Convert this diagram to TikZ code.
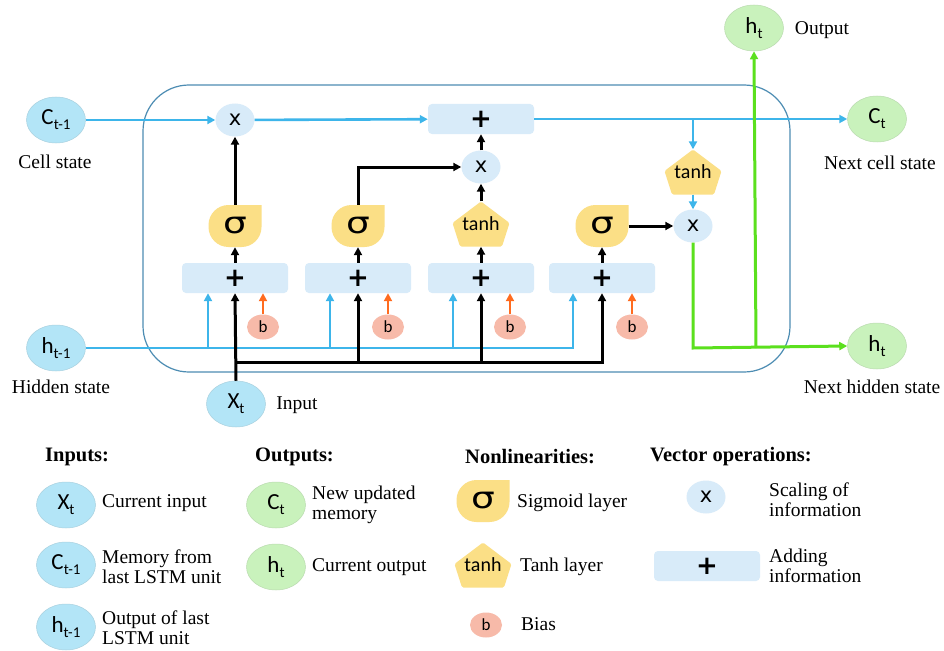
\documentclass[tikz,border=0pt]{standalone}
\usepackage{fontspec}
\setmainfont{Liberation Serif}
\newfontfamily\nf{Carlito}
\newfontfamily\djf{DejaVu Sans}
\usetikzlibrary{arrows.meta,shapes.geometric}
\definecolor{cyanfill}{HTML}{B3E5F7}
\definecolor{greenfill}{HTML}{C9F2BC}
\definecolor{opfill}{HTML}{D8EBF9}
\definecolor{yel}{HTML}{FBDF86}
\definecolor{salmon}{HTML}{F7BAA9}
\definecolor{bline}{HTML}{3DB5EA}
\definecolor{gline}{HTML}{5BE01E}
\definecolor{oline}{HTML}{FF6B1F}
\definecolor{cellc}{HTML}{4D8DB3}
\newcommand\lsub[1]{\raisebox{-5pt}{\fontsize{15}{15}\selectfont #1}}
\newcommand\lblfont{\fontsize{19.5}{20}\selectfont}
\newcommand\sigsym{\scalebox{1.25}[1]{σ}}
\tikzset{
  var/.style={ellipse, minimum width=59, minimum height=46, inner sep=0pt, font=\nf\fontsize{23}{23}\selectfont},
  cyanv/.style={var, fill=cyanfill, draw=cyanfill!80!gray, line width=0.5pt},
  greenv/.style={var, fill=greenfill, draw=greenfill!80!gray, line width=0.5pt},
  mul/.style={ellipse, fill=opfill, minimum width=39, minimum height=33, inner sep=0pt, font=\djf\fontsize{21}{21}\selectfont},
  addbox/.style={rectangle, rounded corners=4pt, fill=opfill, minimum width=106, minimum height=30, inner sep=0pt, font=\djf\bfseries\fontsize{26}{26}\selectfont},
  sig/.style={rectangle, minimum width=53, minimum height=42, inner sep=0pt, font=\djf\fontsize{30}{30}\selectfont,
    path picture={\fill[yel] ([shift={(26.5pt,21pt)}]path picture bounding box.center)
      -- ([shift={(-6.5pt,21pt)}]path picture bounding box.center) arc[start angle=90,end angle=180,radius=20pt]
      -- ([shift={(-26.5pt,-1pt)}]path picture bounding box.center) arc[start angle=180,end angle=270,radius=20pt]
      -- ([shift={(6.5pt,-21pt)}]path picture bounding box.center) arc[start angle=270,end angle=360,radius=20pt]
      -- cycle;}},
  tanhn/.style={rectangle, minimum width=57, minimum height=45, inner sep=0pt, font=\nf\fontsize{20}{20}\selectfont,
    path picture={\fill[yel, rounded corners=1.5pt] ([shift={(0pt,22.5pt)}]path picture bounding box.center)
      -- ([shift={(28.5pt,1pt)}]path picture bounding box.center)
      -- ([shift={(21pt,-22.5pt)}]path picture bounding box.center)
      -- ([shift={(-21pt,-22.5pt)}]path picture bounding box.center)
      -- ([shift={(-28.5pt,1pt)}]path picture bounding box.center) -- cycle;}},
  bias/.style={ellipse, fill=salmon, minimum width=32, minimum height=25, inner sep=0pt, font=\nf\fontsize{17}{17}\selectfont},
  lbl/.style={font=\lblfont, inner sep=0pt},
  lbll/.style={font=\lblfont, inner sep=0pt, anchor=west, align=left},
  head/.style={font=\bfseries\fontsize{20.5}{21}\selectfont, inner sep=0pt, anchor=west},
  arr/.style={-{Triangle[length=8pt,width=8pt]}},
  blk/.style={black, line width=3pt},
  blu/.style={bline, line width=2.6pt},
  grn/.style={gline, line width=3pt},
  org/.style={oline, line width=2.5pt},
}
\begin{document}
\begin{tikzpicture}[x=1pt,y=-1pt]
\useasboundingbox (0,0) rectangle (944,650);
\fill[white] (0,0) rectangle (944,650);
% cell boundary
\draw[cellc, line width=1.2pt, rounded corners=46pt] (143,85) rectangle (790,372);

% variable nodes
\node[cyanv] (cprev) at (56,120) {C\lsub{t-1}};
\node[cyanv] (hprev) at (56,348) {h\lsub{t-1}};
\node[cyanv] (xt) at (236,404) {X\lsub{t}};
\node[greenv] (ct) at (877,119) {C\lsub{t}};
\node[greenv] (htout) at (754,28) {h\lsub{t}};
\node[greenv] (htnext) at (877,346) {h\lsub{t}};

% operations
\node[mul] (m1) at (235,120) {x};
\node[addbox] (a0) at (481,119) {+};
\node[mul] (m2) at (481,167) {x};
\node[tanhn] (th2) at (693,172) {tanh};
\node[mul] (m3) at (693,226) {x};

\node[sig] (s1) at (235,226) {\sigsym};
\node[sig] (s2) at (358,226) {\sigsym};
\node[tanhn] (tn) at (481,224) {tanh};
\node[sig] (s3) at (602,226) {\sigsym};

\node[addbox] (add1) at (235,278) {+};
\node[addbox] (add2) at (358,278) {+};
\node[addbox] (add3) at (481,278) {+};
\node[addbox] (add4) at (602,278) {+};

\node[bias] (b1) at (263,327) {b};
\node[bias] (b2) at (388,327) {b};
\node[bias] (b3) at (510,327) {b};
\node[bias] (b4) at (632,327) {b};

% cell state line
\draw[blu,arr] (cprev) -- (m1);
\draw[blu,arr] (m1) -- (a0);
\draw[blu,arr] (a0) -- (ct);
\coordinate (br) at (693,119);
\draw[blu,arr] (br) -- (th2.north);
\draw[blu,arr] (th2.south) -- (m3.north);

% gate outputs
\draw[blk,arr] (s1.north) -- (m1.south);
\draw[blk,arr] (s2.north) |- (m2.west);
\draw[blk,arr] (tn.north) -- (m2.south);
\draw[blk,arr] (m2.north) -- (a0.south);
\draw[blk,arr] (s3.east) -- (m3.west);
\draw[blk,arr] (add1.north) -- (s1.south);
\draw[blk,arr] (add2.north) -- (s2.south);
\draw[blk,arr] (add3.north) -- (tn.south);
\draw[blk,arr] (add4.north) -- (s3.south);

% output h_t
\coordinate (gc) at (693,348);
\coordinate (gj) at (756,348);
\draw[grn,arr] (m3.south) -- (gc) -- (htnext.west);
\draw[grn,arr] (gj) -- (htout.south);

% hidden state input
\coordinate (h1) at (208,348);
\coordinate (h2) at (330,348);
\coordinate (h3) at (453,348);
\coordinate (h4) at (573,348);
\draw[blu,arr,line join=miter] (hprev.east) -- (h4) -- (h4 |- add4.south);
\draw[blu,arr] (h1) -- (h1 |- add1.south);
\draw[blu,arr] (h2) -- (h2 |- add2.south);
\draw[blu,arr] (h3) -- (h3 |- add3.south);

% x_t input
\coordinate (xj) at (235,362);
\draw[blk,arr] (xt.north) -- (add1.south);
\draw[blk,arr,line join=miter] (xj) -| (add4.south);
\draw[blk,arr] (add2.south |- xj) -- (add2.south);
\draw[blk,arr] (add3.south |- xj) -- (add3.south);

% biases
\draw[org,arr] (b1.north) -- (b1.north |- add1.south);
\draw[org,arr] (b2.north) -- (b2.north |- add2.south);
\draw[org,arr] (b3.north) -- (b3.north |- add3.south);
\draw[org,arr] (b4.north) -- (b4.north |- add4.south);

% labels
\node[lbl] (l1) at (55,162) {Cell state};
\node[lbl] (l2) at (61,387) {Hidden state};
\node[lbl] (l3) at (297,405) {Input};
\node[lbl] (l4) at (822,30) {Output};
\node[lbl] (l5) at (880,163) {Next cell state};
\node[lbl] (l6) at (872,387) {Next hidden state};

% legend
\node[head] (hin) at (45,457) {Inputs:};
\node[head] (hout) at (255,457) {Outputs:};
\node[head] (hnl) at (465,457) {Nonlinearities:};
\node[head] (hvo) at (650,457) {Vector operations:};

\node[cyanv] (lx) at (66,505) {X\lsub{t}};
\node[lbll] (tx) at (102,503) {Current input};
\node[cyanv] (lc) at (66,565) {C\lsub{t-1}};
\node[lbll] (tc) at (102,567) {Memory from\\last LSTM unit};
\node[cyanv] (lh) at (66,627) {h\lsub{t-1}};
\node[lbll] (th) at (102,628) {Output of last\\LSTM unit};

\node[greenv] (lct) at (276,505) {C\lsub{t}};
\node[lbll] (tct) at (312,505) {New updated\\memory};
\node[greenv] (lht) at (276,567) {h\lsub{t}};
\node[lbll] (tht) at (312,567) {Current output};

\node[sig] (ls) at (483,501) {\sigsym};
\node[lbll] (ts) at (517,503) {Sigmoid layer};
\node[tanhn] (lt) at (483,565) {tanh};
\node[lbll] (tt) at (520,567) {Tanh layer};
\node[bias] (lb) at (486,625) {b};
\node[lbll] (tb) at (521,624) {Bias};

\node[mul] (lm) at (706,497) {x};
\node[lbll] (tm) at (769,500) {Scaling of\\information};
\node[addbox] (la) at (707,566) {+};
\node[lbll] (ta) at (769,566) {Adding\\information};
\end{tikzpicture}
\end{document}
